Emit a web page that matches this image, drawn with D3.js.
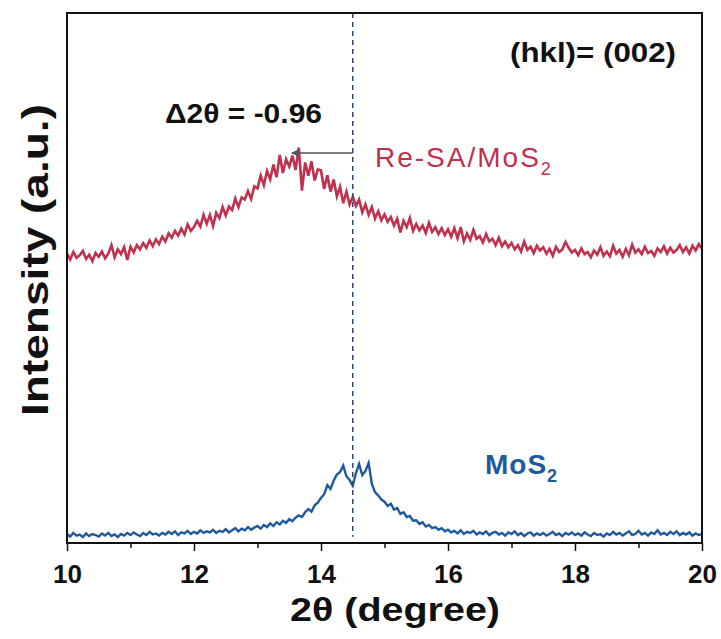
<!DOCTYPE html>
<html>
<head>
<meta charset="utf-8">
<script src="https://cdn.jsdelivr.net/npm/d3@7"></script>
<style>
  body { margin: 0; background: #fff; }
  svg text { font-family: "Liberation Sans", Arial, sans-serif; }
</style>
</head>
<body>
<div id="chart"></div>
<script>
// ---------------------------------------------
// DATA (2theta step 0.05)
// ---------------------------------------------
const thetaStart = 10, thetaStep = 0.05;

const reSaMoS2 = [
  54.6, 53.5, 54.9, 53.8, 54.3, 55.1, 53.6, 54.4, 53.2, 54.7,
  54.0, 55.0, 53.7, 54.6, 56.2, 53.9, 55.4, 54.5, 55.8, 53.4,
  55.9, 54.8, 56.2, 55.4, 56.6, 55.7, 57.1, 56.0, 57.3, 56.4,
  57.8, 56.9, 58.4, 57.6, 58.9, 58.0, 59.3, 58.2, 60.1, 58.9,
  59.6, 60.8, 59.7, 61.9, 60.2, 61.9, 59.8, 62.3, 61.3, 63.4,
  61.8, 63.5, 62.8, 65.0, 63.4, 65.2, 64.8, 66.4, 64.9, 67.3,
  66.9, 69.3, 67.5, 70.2, 68.6, 71.4, 69.0, 73.2, 69.8, 72.4,
  71.0, 73.1, 70.4, 74.6, 66.5, 71.8, 69.3, 72.0, 68.4, 70.5,
  70.3, 66.8, 69.4, 66.3, 68.6, 65.4, 67.2, 64.1, 66.3, 63.9,
  65.3, 63.6, 64.8, 62.4, 63.9, 61.9, 63.4, 61.2, 62.6, 60.9,
  62.0, 60.6, 61.5, 59.9, 61.2, 58.6, 60.8, 59.6, 61.3, 58.9,
  60.2, 59.0, 59.9, 58.5, 60.4, 58.7, 59.6, 58.3, 59.4, 58.1,
  59.2, 57.8, 59.4, 57.5, 59.6, 56.9, 58.4, 57.2, 59.1, 57.4,
  57.9, 56.7, 58.3, 56.9, 57.4, 56.2, 57.6, 56.0, 56.9, 55.8,
  56.6, 55.4, 56.2, 55.0, 56.9, 55.3, 55.9, 54.7, 56.1, 55.2,
  55.8, 54.6, 55.5, 54.2, 55.9, 54.9, 55.4, 56.8, 55.7, 54.8,
  55.3, 54.3, 55.6, 54.5, 54.9, 53.9, 55.2, 54.4, 55.8, 54.2,
  55.0, 54.1, 56.1, 54.6, 55.3, 54.0, 55.5, 54.3, 56.3, 54.8,
  55.4, 54.5, 55.9, 54.7, 55.1, 54.2, 55.6, 54.9, 56.0, 54.6,
  55.7, 54.8, 55.3, 56.2, 54.9, 55.8, 54.6, 56.1, 55.2, 56.4,
  55.5
];

const mos2 = [
  1.7, 1.2, 1.9, 1.4, 1.6, 1.1, 1.8, 1.3, 1.7, 1.5,
  1.2, 1.8, 1.4, 1.9, 1.3, 1.6, 1.1, 1.7, 1.4, 1.9,
  1.5, 2.0, 1.6, 1.3, 1.9, 1.5, 2.1, 1.6, 1.8, 1.4,
  1.9, 1.6, 2.1, 1.7, 2.2, 1.5, 2.0, 1.8, 2.3, 1.7,
  2.1, 1.8, 2.4, 1.9, 2.2, 2.0, 2.5, 1.9, 2.3, 2.1,
  2.6, 2.0, 2.4, 2.8, 2.2, 2.7, 2.4, 3.0, 2.5, 2.9,
  3.2, 2.7, 3.4, 3.0, 3.7, 3.2, 3.9, 3.5, 4.2, 3.8,
  4.5, 4.1, 4.8, 5.2, 4.9, 5.8, 6.4, 5.9, 7.1, 7.6,
  8.5, 9.2, 10.9, 10.2, 11.8, 12.9, 13.4, 14.6, 12.6, 11.9,
  10.8, 13.2, 14.9, 12.8, 13.6, 15.1, 11.2, 9.6, 9.0, 8.2,
  7.8, 7.0, 7.4, 6.3, 6.6, 5.5, 5.8, 4.9, 5.1, 4.2,
  4.3, 3.6, 3.9, 3.1, 3.4, 2.8, 3.0, 2.5, 2.8, 2.2,
  2.5, 2.0, 2.3, 1.8, 2.4, 1.7, 2.1, 1.9, 2.3, 1.6,
  2.0, 1.7, 2.2, 1.5, 1.9, 2.1, 1.6, 1.9, 1.4, 2.0,
  1.7, 2.2, 1.5, 1.9, 1.3, 1.8, 2.0, 1.4, 1.8, 1.5,
  1.9, 1.4, 1.7, 2.1, 1.5, 1.8, 1.3, 1.9, 1.6, 2.0,
  1.5, 1.8, 1.4, 2.0, 1.6, 1.3, 1.9, 1.5, 1.7, 1.2,
  1.8, 1.5, 2.1, 1.6, 1.9, 1.4, 1.8, 2.2, 1.5, 1.7,
  2.3, 1.6, 1.9, 1.4, 2.0, 1.7, 2.4, 1.6, 1.9, 1.5,
  2.1, 1.7, 2.2, 1.5, 1.9, 1.6, 2.0, 1.4, 1.8, 1.5,
  1.7
];

const majorTicks = [10, 12, 14, 16, 18, 20];
const minorTicks = [11, 13, 15, 17, 19];

const refPeak = 14.5;     // MoS2 (002) position
const shift = -0.96;      // delta 2theta
const arrowLevel = 73.6;  // intensity level of the arrow

// ---------------------------------------------
// LAYOUT
// ---------------------------------------------
const W = 721, H = 639;
const margin = { top: 13, right: 19, bottom: 96, left: 67 };
const width = W - margin.left - margin.right;
const height = H - margin.top - margin.bottom;

const red = "#c0304f";
const blue = "#1f5a9e";

const svg = d3.select("#chart").append("svg")
  .attr("width", W)
  .attr("height", H);

const g = svg.append("g")
  .attr("transform", `translate(${margin.left},${margin.top})`);

const x = d3.scaleLinear().domain([10, 20]).range([0, width]);
const y = d3.scaleLinear().domain([0, 100]).range([height, 0]);

const toPoints = arr => arr.map((v, i) => ({ t: thetaStart + i * thetaStep, v }));

const line = d3.line()
  .x(d => x(d.t))
  .y(d => y(d.v));

// ---------------------------------------------
// SERIES
// ---------------------------------------------
g.append("path")
  .datum(toPoints(reSaMoS2))
  .attr("fill", "none")
  .attr("stroke", red)
  .attr("stroke-width", 2.6)
  .attr("d", line);

g.append("path")
  .datum(toPoints(mos2))
  .attr("fill", "none")
  .attr("stroke", blue)
  .attr("stroke-width", 2.4)
  .attr("d", line);

// reference dashed line
g.append("line")
  .attr("x1", x(refPeak)).attr("x2", x(refPeak))
  .attr("y1", 0).attr("y2", y(1.2))
  .attr("stroke", "#2b4a72")
  .attr("stroke-width", 1.5)
  .attr("stroke-dasharray", "5,4");

// shift arrow
svg.append("defs").append("marker")
  .attr("id", "arr")
  .attr("viewBox", "0 0 10 10")
  .attr("refX", 9).attr("refY", 5)
  .attr("markerWidth", 6).attr("markerHeight", 5)
  .attr("orient", "auto")
  .append("path")
  .attr("d", "M0,0 L10,5 L0,10 z")
  .attr("fill", "#555");

g.append("line")
  .attr("x1", x(refPeak)).attr("x2", x(refPeak + shift))
  .attr("y1", y(arrowLevel)).attr("y2", y(arrowLevel))
  .attr("stroke", "#555")
  .attr("stroke-width", 1.5)
  .attr("marker-end", "url(#arr)");

// ---------------------------------------------
// FRAME & AXIS
// ---------------------------------------------
g.append("rect")
  .attr("width", width).attr("height", height)
  .attr("fill", "none")
  .attr("stroke", "#111")
  .attr("stroke-width", 2);

const xAxis = g.append("g")
  .attr("transform", `translate(0,${height})`)
  .call(d3.axisBottom(x).tickValues(majorTicks).tickSize(8).tickSizeOuter(0).tickPadding(14));

g.append("g")
  .attr("transform", `translate(0,${height})`)
  .call(d3.axisBottom(x).tickValues(minorTicks).tickSize(5).tickFormat(""))
  .call(a => a.select(".domain").remove())
  .selectAll("line").attr("stroke", "#111").attr("stroke-width", 1.5);

xAxis.select(".domain").remove();
xAxis.selectAll("line").attr("stroke", "#111").attr("stroke-width", 1.5);
xAxis.selectAll("text")
  .attr("fill", "#111")
  .style("font-size", "26px")
  .style("font-weight", "bold");

// ---------------------------------------------
// LABELS
// ---------------------------------------------
svg.append("text")
  .attr("x", 395).attr("y", 621)
  .attr("text-anchor", "middle")
  .attr("textLength", 210)
  .attr("lengthAdjust", "spacingAndGlyphs")
  .style("font-size", "34px")
  .style("font-weight", "bold")
  .attr("fill", "#111")
  .text("2θ (degree)");

svg.append("text")
  .attr("transform", "translate(48,260) rotate(-90)")
  .attr("text-anchor", "middle")
  .attr("textLength", 312)
  .attr("lengthAdjust", "spacingAndGlyphs")
  .style("font-size", "37px")
  .style("font-weight", "bold")
  .attr("fill", "#111")
  .text("Intensity (a.u.)");

svg.append("text")
  .attr("x", 510).attr("y", 62)
  .attr("textLength", 166)
  .attr("lengthAdjust", "spacingAndGlyphs")
  .style("font-size", "27px")
  .style("font-weight", "bold")
  .attr("fill", "#111")
  .text("(hkl)= (002)");

svg.append("text")
  .attr("x", 165).attr("y", 123)
  .attr("textLength", 157)
  .attr("lengthAdjust", "spacingAndGlyphs")
  .style("font-size", "27px")
  .style("font-weight", "bold")
  .attr("fill", "#111")
  .text("Δ2θ = -0.96");

const redLab = svg.append("text")
  .attr("x", 375).attr("y", 167)
  .style("font-size", "28px")
  .style("letter-spacing", "2px")
  .attr("fill", red);
redLab.append("tspan").text("Re-SA/MoS");
redLab.append("tspan").attr("dy", 8).style("font-size", "18px").text("2");

const blueLab = svg.append("text")
  .attr("x", 485).attr("y", 474)
  .style("font-size", "28px")
  .style("font-weight", "bold")
  .style("letter-spacing", "1px")
  .attr("fill", blue);
blueLab.append("tspan").text("MoS");
blueLab.append("tspan").attr("dy", 8).style("font-size", "18px").text("2");
</script>
</body>
</html>
